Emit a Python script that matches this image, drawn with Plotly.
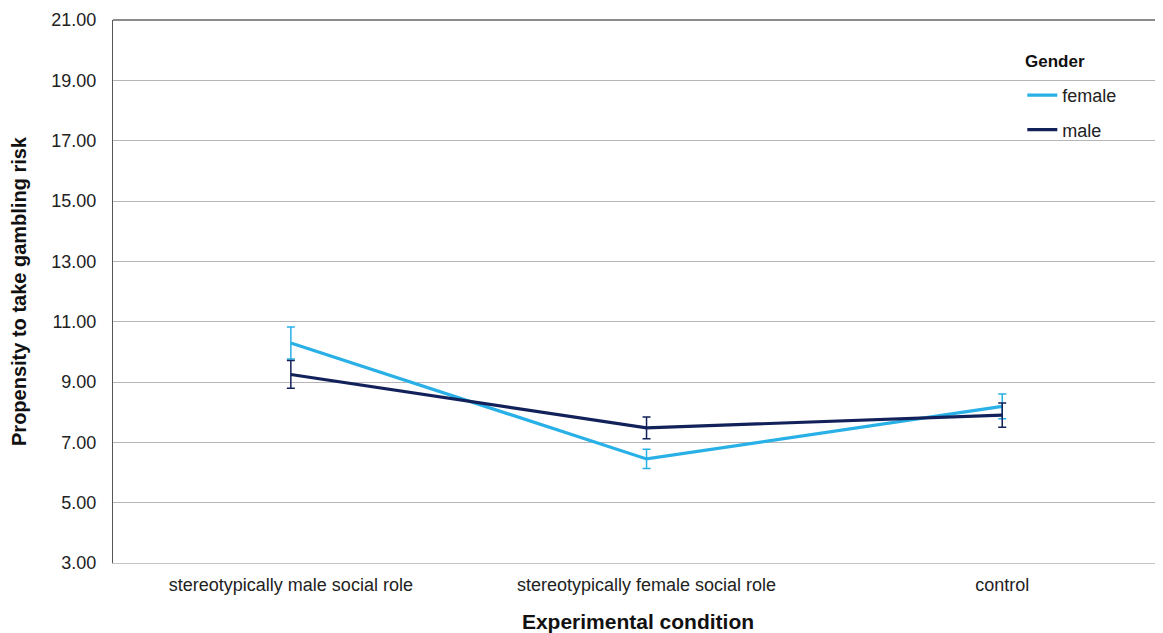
import plotly.graph_objects as go

categories = ["stereotypically male social role", "stereotypically female social role", "control"]
female_mean = [10.29, 6.45, 8.19]
female_err = [0.53, 0.32, 0.41]
male_mean = [9.25, 7.48, 7.90]
male_err = [0.46, 0.36, 0.40]
y_ticks = [3, 5, 7, 9, 11, 13, 15, 17, 19, 21]

FEMALE = "#29B0E6"
MALE = "#13215A"
FONT = "Liberation Sans, Arial, sans-serif"

fig = go.Figure()
fig.add_trace(go.Scatter(
    x=list(range(len(categories))), y=female_mean, name="female", mode="lines",
    line=dict(color=FEMALE, width=3.2), legendgroup="f",
    error_y=dict(type="data", array=female_err, color=FEMALE, thickness=1.5, width=4),
))
fig.add_trace(go.Scatter(
    x=list(range(len(categories))), y=male_mean, name="male", mode="lines",
    line=dict(color=MALE, width=3.2), legendgroup="m",
    error_y=dict(type="data", array=male_err, color=MALE, thickness=1.5, width=4),
))

fig.add_annotation(
    text="<b>Gender</b>", xref="paper", yref="paper", x=0.867, y=0.923,
    xanchor="left", yanchor="middle", showarrow=False,
    font=dict(size=17, color="#111", family=FONT),
)
# top frame line of the plot area
fig.add_shape(type="line", xref="paper", yref="paper", x0=0, x1=1, y0=1, y1=1,
              line=dict(color="#666", width=1.5), layer="below")

fig.update_layout(
    width=1155, height=625,
    margin=dict(l=105, r=0, t=12, b=70, autoexpand=False),
    plot_bgcolor="white", paper_bgcolor="white",
    font=dict(family=FONT, size=18, color="#222"),
    showlegend=True,
    legend=dict(
        x=0.866, y=0.895, xanchor="left", yanchor="top",
        traceorder="grouped", tracegroupgap=8,
        font=dict(size=18, color="#222"), itemwidth=30,
        bgcolor="rgba(0,0,0,0)",
    ),
    xaxis=dict(
        tickmode="array", tickvals=list(range(len(categories))), ticktext=categories,
        range=[-0.5, 2.452], showgrid=False, zeroline=False,
        showline=True, linecolor="#C4C4C4", linewidth=1.2,
        ticks="", ticklabelstandoff=5,
        tickfont=dict(size=18, color="#222"), automargin=False,
        title=dict(text="<b>Experimental condition</b>", font=dict(size=21, color="#111"), standoff=22),
    ),
    yaxis=dict(
        range=[3, 21], tickvals=y_ticks, tickformat=".2f",
        showgrid=True, gridcolor="#B5B5B5", gridwidth=1.2,
        showline=True, linecolor="#555", linewidth=1.2,
        ticks="", ticklabelstandoff=12,
        zeroline=False, tickfont=dict(size=18, color="#222"), automargin=False,
        title=dict(text="<b>Propensity to take gambling risk</b>", font=dict(size=20, color="#111"), standoff=20),
    ),
)

fig.write_html("out.html")
